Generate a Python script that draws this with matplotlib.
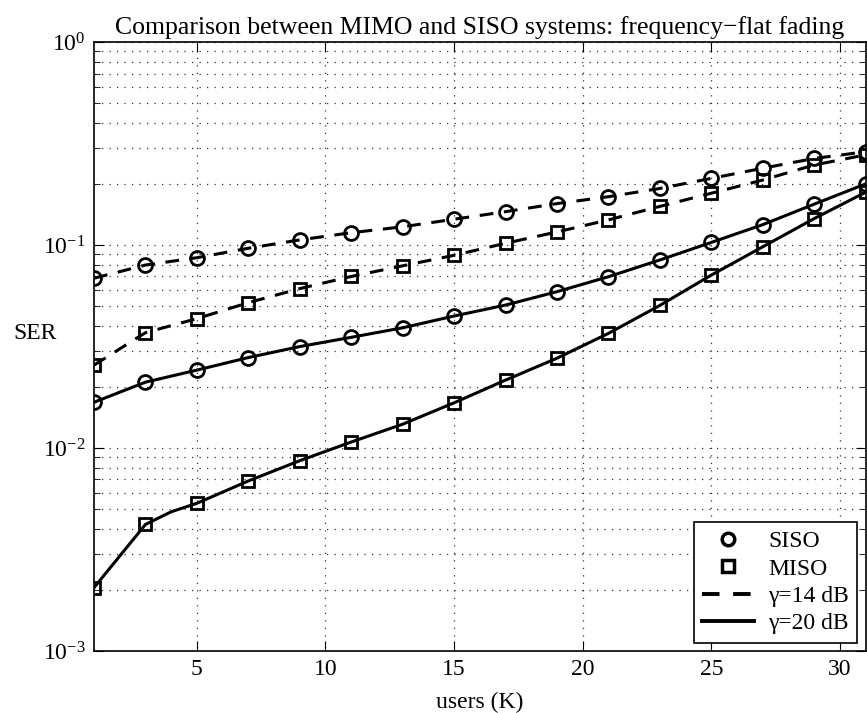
import matplotlib.pyplot as plt
from matplotlib.lines import Line2D

plt.rcParams['font.family'] = ['Liberation Serif', 'DejaVu Serif']
plt.rcParams['mathtext.fontset'] = 'stix'

# users K
users = [1, 3, 5, 7, 9, 11, 13, 15, 17, 19, 21, 23, 25, 27, 29, 31]
users_miso20 = [1, 3, 4, 5, 7, 9, 11, 13, 15, 17, 19, 21, 23, 25, 27, 29, 31]

siso_14 = [0.0686, 0.0797, 0.0866, 0.0964, 0.106, 0.115, 0.123, 0.134,
           0.146, 0.160, 0.173, 0.190, 0.213, 0.239, 0.267, 0.288]
miso_14 = [0.0256, 0.037, 0.0434, 0.052, 0.061, 0.070, 0.079, 0.089,
           0.102, 0.116, 0.133, 0.155, 0.180, 0.209, 0.248, 0.278]
siso_20 = [0.0168, 0.0211, 0.0242, 0.0279, 0.0316, 0.0351, 0.0391, 0.0447,
           0.0506, 0.0589, 0.0698, 0.0844, 0.103, 0.126, 0.159, 0.200]
miso_20 = [0.00205, 0.0042, 0.00485, 0.00534, 0.00688, 0.00866, 0.0107, 0.0131,
           0.0167, 0.0216, 0.0277, 0.0367, 0.0504, 0.0711, 0.098, 0.135, 0.182]

fig = plt.figure(figsize=(8.67, 7.13), dpi=100)
ax = fig.add_axes([0.1084, 0.087, 0.89, 0.854])

fs = 17
lw = 2.2
ms = 10
dash = (4.5, 3.5)
ax.plot(users, siso_14, 'k--', dashes=dash, lw=lw, marker='o', ms=ms,
        mfc='none', mew=2)
ax.plot(users, miso_14, 'k--', dashes=dash, lw=lw, marker='s', ms=ms - 1,
        mfc='none', mew=2)
ax.plot(users, siso_20, 'k-', lw=lw, marker='o', ms=ms, mfc='none', mew=2)
odd = [i for i, u in enumerate(users_miso20) if u % 2 == 1]
ax.plot(users_miso20, miso_20, 'k-', lw=lw, marker='s', ms=ms - 1,
        mfc='none', mew=2, markevery=odd)

ax.set_yscale('log')
ax.set_xlim(1, 31)
ax.set_ylim(1e-3, 1)
ax.set_xticks([5, 10, 15, 20, 25, 30])
ax.tick_params(which='both', direction='in', top=True, right=True,
               labelsize=fs)
ax.tick_params(which='major', length=7, pad=6)
ax.tick_params(which='minor', length=4)
grid_style = dict(linestyle=(0, (1, 5)), color='#333333', lw=0.9)
ax.grid(True, which='major', **grid_style)
ax.grid(True, which='minor', axis='y', **grid_style)
for s in ax.spines.values():
    s.set_linewidth(1.2)

ax.set_title('Comparison between MIMO and SISO systems: frequency\u2212flat fading',
             fontsize=18.5, pad=6)
ax.set_xlabel('users (K)', fontsize=fs, labelpad=8)
ax.set_ylabel('SER', fontsize=fs, rotation=0, va='center', ha='center')
ax.yaxis.set_label_coords(-0.077, 0.522)

handles = [
    Line2D([], [], color='k', ls='none', marker='o', ms=9, mfc='none', mew=2.5),
    Line2D([], [], color='k', ls='none', marker='s', ms=8, mfc='none', mew=2.5),
    Line2D([], [], color='k', ls='--', dashes=dash, lw=lw + 0.6),
    Line2D([], [], color='k', ls='-', lw=lw + 0.6),
]
labels = ['SISO', 'MISO', '\u03b3=14 dB', '\u03b3=20 dB']
leg = ax.legend(handles, labels, loc='lower right', fontsize=fs,
                fancybox=False, edgecolor='k', framealpha=1,
                borderaxespad=0.35, handlelength=2.2, handletextpad=0.6,
                labelspacing=0.25, borderpad=0.35)
leg.get_frame().set_linewidth(1.2)

plt.savefig('out.png')
